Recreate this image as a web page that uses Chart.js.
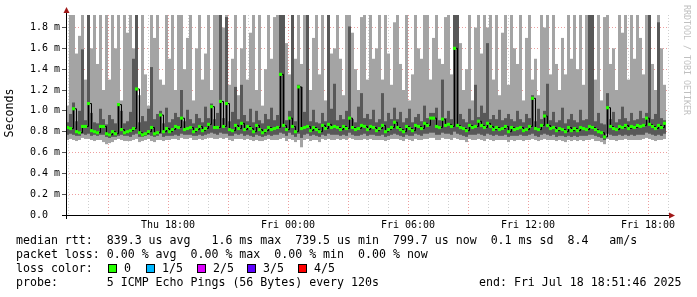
<!DOCTYPE html>
<html lang="en">
<head>
<meta charset="UTF-8">
<title>SmokePing latency</title>
<script src="https://cdn.jsdelivr.net/npm/chart.js@4/dist/chart.umd.min.js"></script>
<style>
  body { margin: 0; background: #fff; }
</style>
</head>
<body>
<canvas id="smoke" width="697" height="297"></canvas>
<script>
// x values are minutes since Thu 00:00, one column every 9 minutes
const startMin = 774;
const stepMin = 9;

// five sorted pings per column, in ms (values above 1.92 are cut off by the graph)
const pingMax = [
  1.05, 2.0, 2.0, 1.55, 1.72, 2.0, 1.3, 2.0, 1.6, 2.0,
  1.45, 2.0, 1.2, 2.0, 1.3, 2.0, 1.6, 2.0, 1.1, 2.0,
  1.75, 2.0, 1.6, 2.0, 1.15, 2.0, 1.35, 1.05, 2.0, 1.7,
  2.0, 1.3, 1.25, 2.0, 1.5, 2.0, 1.2, 2.0, 2.0, 1.4,
  1.7, 2.0, 1.1, 1.6, 2.0, 1.3, 1.55, 2.0, 1.2, 2.0,
  2.0, 2.0, 1.8, 2.0, 1.25, 1.5, 2.0, 1.15, 1.6, 2.0,
  1.3, 1.75, 2.0, 1.2, 1.95, 1.05, 1.4, 2.0, 1.5, 1.9,
  2.0, 2.0, 2.0, 1.65, 1.35, 2.0, 1.5, 2.0, 1.45, 2.0,
  2.0, 1.2, 1.7, 2.0, 1.35, 2.0, 1.1, 2.0, 1.55, 1.6,
  2.0, 1.5, 1.15, 2.0, 2.0, 1.75, 1.4, 1.2, 1.9, 2.0,
  1.3, 2.0, 1.5, 1.6, 2.0, 1.3, 2.0, 1.55, 1.25, 1.85,
  2.0, 1.45, 1.2, 2.0, 1.1, 1.35, 2.0, 1.6, 1.5, 2.0,
  2.0, 1.3, 1.7, 2.0, 1.5, 1.45, 1.9, 2.0, 1.35, 2.0,
  2.0, 1.65, 1.2, 1.4, 2.0, 1.1, 1.8, 2.0, 1.55, 2.0,
  1.8, 2.0, 1.3, 2.0, 1.15, 1.75, 2.0, 1.25, 2.0, 1.6,
  1.45, 2.0, 1.1, 1.7, 2.0, 1.3, 1.5, 1.15, 2.0, 1.8,
  2.0, 1.35, 2.0, 1.45, 1.2, 1.7, 1.35, 2.0, 1.5, 2.0,
  1.4, 2.0, 1.25, 2.0, 2.0, 2.0, 1.3, 2.0, 1.1, 1.9,
  2.0, 1.45, 1.6, 1.2, 2.0, 1.75, 2.0, 1.3, 2.0, 1.5,
  2.0, 1.7, 1.35, 2.0, 2.0, 1.45, 1.2, 2.0, 1.6, 1.25
];
const pingHigh = [
  0.89, 0.97, 1.08, 0.9, 1.0, 1.59, 0.91, 2.0, 0.98, 0.89,
  0.88, 1.02, 0.92, 0.87, 0.96, 0.92, 0.88, 1.06, 1.0, 0.88,
  0.9, 0.99, 1.5, 2.0, 0.89, 0.95, 0.9, 1.02, 1.42, 0.92,
  0.97, 1.0, 0.88, 1.03, 0.89, 0.92, 0.98, 0.94, 1.2, 0.9,
  1.01, 0.92, 0.88, 0.97, 0.93, 0.89, 1.04, 0.93, 1.07, 0.92,
  0.98, 2.0, 0.93, 1.9, 0.9, 0.99, 1.23, 0.92, 1.25, 0.96,
  0.9, 1.02, 0.89, 1.0, 0.91, 0.88, 0.97, 0.92, 1.03, 0.91,
  0.96, 2.0, 2.0, 0.91, 1.0, 2.0, 0.9, 1.25, 1.23, 0.99,
  2.0, 0.9, 1.01, 0.89, 0.88, 0.98, 0.9, 2.0, 1.02, 1.26,
  0.91, 0.96, 0.92, 1.0, 1.81, 0.92, 0.89, 1.04, 1.17, 0.93,
  0.97, 0.92, 1.01, 0.89, 0.92, 1.17, 0.9, 0.98, 0.92, 1.03,
  0.92, 0.99, 0.89, 0.93, 1.02, 0.89, 0.94, 0.97, 0.9, 1.05,
  0.93, 0.98, 0.98, 1.03, 0.91, 1.3, 0.93, 1.0, 0.92, 2.0,
  2.0, 0.97, 0.92, 0.89, 1.02, 0.91, 1.25, 0.94, 1.05, 0.98,
  1.65, 0.92, 0.96, 0.92, 1.01, 0.91, 0.93, 0.97, 0.92, 0.9,
  1.0, 0.92, 0.89, 0.97, 0.93, 1.15, 0.9, 1.02, 0.92, 1.0,
  1.26, 0.91, 0.99, 0.89, 0.91, 1.03, 0.88, 0.92, 0.97, 0.91,
  0.89, 1.01, 0.91, 0.92, 2.0, 2.0, 0.9, 0.98, 0.88, 0.87,
  1.17, 0.92, 0.99, 0.89, 0.92, 1.04, 0.93, 0.9, 0.98, 0.91,
  0.92, 1.0, 0.93, 0.98, 2.0, 0.92, 0.97, 1.85, 0.93, 0.91
];
const median = [
  0.84, 0.83, 1.02, 0.8, 0.79, 0.85, 0.85, 1.07, 0.81, 0.8,
  0.79, 0.85, 0.85, 0.78, 0.77, 0.8, 0.78, 1.06, 0.82, 0.79,
  0.8, 0.81, 0.83, 1.21, 0.79, 0.77, 0.78, 0.8, 0.84, 0.78,
  0.79, 0.96, 0.8, 0.83, 0.8, 0.82, 0.85, 0.84, 0.93, 0.82,
  0.83, 0.84, 0.8, 0.82, 0.85, 0.81, 0.83, 0.87, 1.04, 0.84,
  0.84, 1.09, 0.85, 1.07, 0.82, 0.81, 0.86, 0.83, 0.88, 0.82,
  0.85, 0.83, 0.8, 0.86, 0.82, 0.79, 0.81, 0.84, 0.82, 0.83,
  0.84, 1.35, 0.86, 0.82, 0.93, 0.85, 0.8, 1.23, 0.83, 0.84,
  0.85, 0.81, 0.84, 0.82, 0.8, 0.86, 0.83, 0.87, 0.84, 0.85,
  0.84, 0.82, 0.85, 0.83, 0.93, 0.84, 0.82, 0.83, 0.86, 0.85,
  0.82, 0.85, 0.84, 0.81, 0.83, 0.86, 0.8, 0.82, 0.84, 0.89,
  0.84, 0.82, 0.8, 0.85, 0.83, 0.81, 0.86, 0.85, 0.83, 0.88,
  0.86, 0.93, 0.93, 0.85, 0.84, 0.92, 0.86, 0.87, 0.85, 1.6,
  0.86, 0.84, 0.83, 0.81, 0.86, 0.84, 0.85, 0.9, 0.86, 0.84,
  0.88, 0.85, 0.82, 0.84, 0.82, 0.83, 0.85, 0.8, 0.84, 0.82,
  0.83, 0.84, 0.81, 0.82, 0.85, 1.12, 0.83, 0.82, 0.86, 0.95,
  0.86, 0.83, 0.84, 0.81, 0.83, 0.82, 0.8, 0.84, 0.81, 0.83,
  0.81, 0.84, 0.83, 0.82, 0.85, 0.84, 0.82, 0.8, 0.79, 0.75,
  1.03, 0.85, 0.83, 0.82, 0.85, 0.84, 0.86, 0.83, 0.85, 0.84,
  0.86, 0.85, 0.86, 0.93, 0.87, 0.85, 0.83, 0.86, 0.84, 0.88
];
const pingLow = [
  0.77, 0.78, 0.77, 0.76, 0.76, 0.78, 0.77, 0.78, 0.76, 0.77,
  0.76, 0.77, 0.77, 0.75, 0.74, 0.75, 0.75, 0.76, 0.77, 0.76,
  0.76, 0.75, 0.77, 0.78, 0.75, 0.75, 0.76, 0.77, 0.76, 0.75,
  0.76, 0.78, 0.75, 0.76, 0.76, 0.76, 0.77, 0.76, 0.78, 0.77,
  0.77, 0.77, 0.76, 0.76, 0.77, 0.76, 0.77, 0.78, 0.79, 0.78,
  0.77, 0.79, 0.78, 0.78, 0.76, 0.76, 0.78, 0.77, 0.78, 0.76,
  0.77, 0.76, 0.75, 0.77, 0.76, 0.75, 0.76, 0.77, 0.76, 0.77,
  0.77, 0.79, 0.78, 0.76, 0.79, 0.77, 0.75, 0.78, 0.74, 0.77,
  0.78, 0.76, 0.77, 0.76, 0.75, 0.77, 0.76, 0.78, 0.77, 0.77,
  0.77, 0.76, 0.77, 0.76, 0.79, 0.77, 0.76, 0.76, 0.77, 0.78,
  0.76, 0.77, 0.77, 0.76, 0.76, 0.77, 0.75, 0.76, 0.77, 0.78,
  0.77, 0.76, 0.75, 0.77, 0.76, 0.76, 0.78, 0.77, 0.76, 0.78,
  0.78, 0.79, 0.79, 0.77, 0.77, 0.79, 0.78, 0.78, 0.77, 0.8,
  0.78, 0.77, 0.76, 0.75, 0.77, 0.77, 0.77, 0.78, 0.77, 0.76,
  0.78, 0.77, 0.76, 0.77, 0.76, 0.76, 0.77, 0.75, 0.76, 0.76,
  0.76, 0.77, 0.76, 0.76, 0.77, 0.78, 0.76, 0.75, 0.77, 0.78,
  0.77, 0.76, 0.77, 0.75, 0.76, 0.76, 0.75, 0.76, 0.75, 0.76,
  0.75, 0.76, 0.76, 0.76, 0.77, 0.77, 0.76, 0.75, 0.74, 0.72,
  0.78, 0.77, 0.76, 0.76, 0.77, 0.76, 0.77, 0.76, 0.77, 0.76,
  0.77, 0.77, 0.77, 0.79, 0.78, 0.77, 0.76, 0.77, 0.76, 0.78
];
const pingMin = [
  0.72, 0.73, 0.72, 0.71, 0.72, 0.74, 0.73, 0.73, 0.72, 0.71,
  0.72, 0.72, 0.7, 0.68, 0.69, 0.7, 0.72, 0.73, 0.72, 0.71,
  0.71, 0.71, 0.72, 0.73, 0.7, 0.71, 0.72, 0.73, 0.71, 0.7,
  0.72, 0.72, 0.71, 0.72, 0.72, 0.73, 0.73, 0.72, 0.74, 0.73,
  0.73, 0.74, 0.72, 0.72, 0.73, 0.72, 0.73, 0.74, 0.74, 0.73,
  0.73, 0.74, 0.73, 0.74, 0.72, 0.71, 0.73, 0.73, 0.73, 0.72,
  0.73, 0.72, 0.71, 0.72, 0.71, 0.71, 0.72, 0.73, 0.72, 0.72,
  0.72, 0.73, 0.74, 0.71, 0.73, 0.72, 0.7, 0.72, 0.65, 0.72,
  0.73, 0.71, 0.72, 0.72, 0.7, 0.73, 0.72, 0.73, 0.72, 0.72,
  0.73, 0.72, 0.73, 0.72, 0.74, 0.73, 0.72, 0.72, 0.72, 0.73,
  0.72, 0.73, 0.72, 0.72, 0.72, 0.72, 0.71, 0.72, 0.73, 0.73,
  0.73, 0.72, 0.71, 0.73, 0.72, 0.71, 0.73, 0.72, 0.72, 0.73,
  0.73, 0.74, 0.74, 0.72, 0.72, 0.74, 0.73, 0.73, 0.72, 0.74,
  0.73, 0.72, 0.72, 0.7, 0.73, 0.72, 0.72, 0.73, 0.72, 0.71,
  0.73, 0.72, 0.71, 0.72, 0.72, 0.72, 0.72, 0.7, 0.72, 0.71,
  0.72, 0.72, 0.71, 0.72, 0.72, 0.73, 0.72, 0.71, 0.72, 0.73,
  0.72, 0.72, 0.72, 0.71, 0.72, 0.71, 0.7, 0.72, 0.71, 0.72,
  0.71, 0.72, 0.71, 0.72, 0.72, 0.73, 0.71, 0.71, 0.7, 0.68,
  0.73, 0.72, 0.72, 0.71, 0.72, 0.72, 0.73, 0.72, 0.72, 0.72,
  0.72, 0.72, 0.73, 0.74, 0.73, 0.72, 0.71, 0.72, 0.72, 0.73
];

const xTickTimes = [1080, 1440, 1800, 2160, 2520];
const xTickLabels = ['Thu 18:00', 'Fri 00:00', 'Fri 06:00', 'Fri 12:00', 'Fri 18:00'];
const yTickLabels = ['0.0  ', '0.2 m', '0.4 m', '0.6 m', '0.8 m', '1.0 m', '1.2 m', '1.4 m', '1.6 m', '1.8 m'];
const lossLabels = ['0', '1/5', '2/5', '3/5', '4/5'];
const lossColors = ['#26ff00', '#00b8ff', '#dd00ff', '#5e00ff', '#ff0000'];

const legendLines = [
  'median rtt:  839.3 us avg   1.6 ms max  739.5 us min  799.7 us now  0.1 ms sd  8.4   am/s',
  'packet loss: 0.00 % avg  0.00 % max  0.00 % min  0.00 % now',
  'loss color:',
  'probe:       5 ICMP Echo Pings (56 Bytes) every 120s'
];
const endText = 'end: Fri Jul 18 18:51:46 2025';

const mono = '"DejaVu Sans Mono", "Liberation Mono", monospace';
const gridMinor = 'rgba(175,175,175,0.6)';
const gridMajor = 'rgba(222,79,79,0.55)';

const times = median.map((_, i) => startMin + stepMin * i + stepMin / 2);
const hours = [];
for (let t = 780; t <= 2580; t += 60) hours.push(t);

const decor = {
  id: 'decor',
  afterDraw(chart) {
    const ctx = chart.ctx;
    const a = chart.chartArea;
    ctx.save();

    // axes with arrow heads
    ctx.strokeStyle = '#000';
    ctx.lineWidth = 1;
    ctx.beginPath();
    ctx.moveTo(62, a.bottom + 0.5);
    ctx.lineTo(670, a.bottom + 0.5);
    ctx.moveTo(a.left + 0.5, a.bottom + 4);
    ctx.lineTo(a.left + 0.5, 12);
    ctx.stroke();
    ctx.fillStyle = '#a01818';
    ctx.beginPath();
    ctx.moveTo(669, a.bottom - 2.5);
    ctx.lineTo(675, a.bottom + 0.5);
    ctx.lineTo(669, a.bottom + 3.5);
    ctx.fill();
    ctx.beginPath();
    ctx.moveTo(a.left - 2.5, 13);
    ctx.lineTo(a.left + 0.5, 7);
    ctx.lineTo(a.left + 3.5, 13);
    ctx.fill();

    // y title
    ctx.fillStyle = '#000';
    ctx.font = '11.6px ' + mono;
    ctx.textAlign = 'center';
    ctx.textBaseline = 'middle';
    ctx.save();
    ctx.translate(10, 113);
    ctx.rotate(-Math.PI / 2);
    ctx.fillText('Seconds', 0, 0);
    ctx.restore();

    // watermark
    ctx.save();
    ctx.fillStyle = '#c0c0c0';
    ctx.font = '8.3px ' + mono;
    ctx.translate(686, 60);
    ctx.rotate(Math.PI / 2);
    ctx.fillText('RRDTOOL / TOBI OETIKER', 0, 0);
    ctx.restore();

    // legend
    ctx.textAlign = 'left';
    ctx.font = '11.6px ' + mono;
    const rows = [241, 255, 269, 283];
    legendLines.forEach((s, i) => ctx.fillText(s, 16, rows[i]));
    ctx.fillText(endText, 479, rows[3]);
    const boxX = [108, 146, 197, 247, 298];
    lossLabels.forEach((lab, i) => {
      ctx.fillStyle = lossColors[i];
      ctx.fillRect(boxX[i], rows[2] - 4, 8, 8);
      ctx.strokeStyle = '#000';
      ctx.strokeRect(boxX[i] + 0.5, rows[2] - 4.5, 8, 8);
      ctx.fillStyle = '#000';
      ctx.fillText(lab, boxX[i] + 16, rows[2]);
    });
    ctx.restore();
  }
};

const barCommon = {
  type: 'bar',
  grouped: false,
  barPercentage: 1,
  categoryPercentage: 1,
  borderWidth: 0,
  inflateAmount: 0
};

new Chart(document.getElementById('smoke'), {
  type: 'bar',
  data: {
    datasets: [
      Object.assign({}, barCommon, {
        label: 'ping spread',
        data: times.map((t, i) => ({ x: t, y: [pingMin[i], pingMax[i]] })),
        backgroundColor: '#a4a4a4',
        order: 3
      }),
      Object.assign({}, barCommon, {
        label: 'inner pings',
        data: times.map((t, i) => ({ x: t, y: [pingLow[i], pingHigh[i]] })),
        backgroundColor: '#585858',
        order: 2
      }),
      {
        type: 'line',
        label: 'median',
        data: times.map((t, i) => ({ x: t, y: median[i] })),
        borderColor: '#000',
        borderWidth: 1,
        stepped: 'before',
        pointStyle: 'rect',
        pointRadius: 2.2,
        pointBorderWidth: 0,
        pointBackgroundColor: lossColors[0],
        pointBorderColor: lossColors[0],
        order: 1
      }
    ]
  },
  options: {
    responsive: false,
    animation: false,
    devicePixelRatio: 1,
    layout: { padding: { left: 0, right: 28, top: 15, bottom: 0 } },
    plugins: { legend: { display: false }, tooltip: { enabled: false } },
    scales: {
      x: {
        type: 'linear',
        min: 774,
        max: 2583,
        offset: false,
        z: 1,
        afterFit: s => { s.height = 82; },
        afterBuildTicks: s => { s.ticks = hours.map(v => ({ value: v })); },
        border: { display: false, dash: [1, 2] },
        grid: {
          offset: false,
          drawTicks: false,
          color: c => (c.tick && c.tick.value % 180 === 0) ? gridMajor : gridMinor
        },
        ticks: {
          autoSkip: false,
          maxRotation: 0,
          padding: 4,
          color: '#000',
          font: { family: mono, size: 10 },
          callback: v => {
            const k = xTickTimes.indexOf(v);
            return k >= 0 ? xTickLabels[k] : '';
          }
        }
      },
      y: {
        min: 0,
        max: 1.92,
        z: 1,
        afterFit: s => { s.width = 66; },
        afterBuildTicks: s => { s.ticks = Array.from({ length: 20 }, (_, i) => ({ value: i / 10 })); },
        border: { display: false, dash: [1, 2] },
        grid: {
          color: c => (c.tick && Math.round(c.tick.value * 10) % 2) ? gridMinor : gridMajor,
          tickLength: 4,
          tickBorderDash: [],
          tickColor: c => (c.tick && Math.round(c.tick.value * 10) % 2) ? 'transparent' : '#555'
        },
        ticks: {
          padding: 2,
          color: '#000',
          font: { family: mono, size: 10 },
          callback: v => {
            const i = Math.round(v * 10);
            return i % 2 ? '' : yTickLabels[i / 2];
          }
        }
      }
    }
  },
  plugins: [decor]
});
</script>
</body>
</html>
